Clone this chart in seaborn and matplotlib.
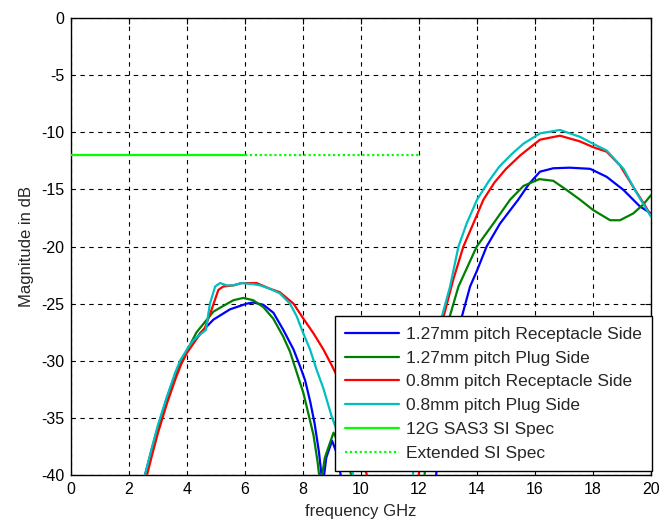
import numpy as np
import pandas as pd
import matplotlib
matplotlib.use("Agg")
import matplotlib.pyplot as plt
import seaborn as sns

# ---------------- data ----------------
blue_x = [2.3, 2.55, 2.8, 3.0, 3.3, 3.6, 3.8, 4.0, 4.45, 4.91, 5.48, 6.06, 6.28, 6.63, 6.98, 7.32, 7.67, 7.9,
          8.07, 8.25, 8.4, 8.55, 8.68, 8.8, 9.0, 9.15, 9.3, 9.6, 10.2, 11.0, 11.8, 12.3, 12.55, 12.65, 12.8, 13.0,
          13.22, 13.47, 13.76, 14.0, 14.33, 14.79, 15.42, 15.8, 16.17, 16.63, 17.2, 17.9, 18.47, 19.05, 19.62, 20.0]
blue_y = [-42.5, -40.0, -37.6, -35.8, -33.3, -31.1, -29.9, -29.1, -27.6, -26.4, -25.5, -25.0, -24.9, -25.1, -25.8,
          -27.3, -29.0, -30.5, -31.7, -33.6, -35.5, -38.0, -41.0, -38.5, -37.0, -38.0, -40.0, -43.0, -47.0, -48.0,
          -46.0, -43.0, -41.0, -38.5, -35.3, -32.2, -28.8, -26.2, -23.5, -22.1, -20.0, -18.0, -15.9, -14.5, -13.45,
          -13.15, -13.1, -13.2, -13.9, -15.05, -16.5, -17.1]

green_x = [2.4, 2.6, 2.8, 3.0, 3.3, 3.6, 3.8, 4.0, 4.33, 4.91, 5.25, 5.6, 5.94, 6.28, 6.63, 6.97, 7.32, 7.55, 7.78,
           8.01, 8.2, 8.36, 8.5, 8.6, 8.75, 9.05, 9.4, 9.8, 10.5, 11.3, 11.9, 12.15, 12.25, 12.4, 12.6, 12.83, 13.05,
           13.36, 13.99, 14.56, 15.14, 15.6, 16.15, 16.63, 17.09, 17.55, 18.0, 18.59, 18.93, 19.39, 19.74, 20.0]
green_y = [-42.5, -40.0, -37.8, -35.9, -33.5, -31.4, -30.1, -29.1, -27.5, -25.7, -25.2, -24.7, -24.5, -24.7, -25.3,
           -26.3, -27.9, -29.2, -31.0, -32.8, -34.8, -36.5, -38.8, -41.0, -38.5, -36.3, -38.0, -41.0, -46.0, -46.0,
           -43.0, -41.0, -38.5, -35.3, -32.2, -28.8, -26.2, -23.5, -20.0, -18.0, -15.9, -14.7, -14.1, -14.25, -15.05,
           -15.9, -16.8, -17.7, -17.7, -17.1, -16.3, -15.5]

red_x = [2.4, 2.62, 2.8, 3.0, 3.3, 3.6, 3.8, 4.0, 4.3, 4.62, 4.85, 5.08, 5.25, 5.6, 5.88, 6.4, 6.86, 7.2, 7.67, 8.01,
         8.36, 8.7, 8.99, 9.3, 9.7, 10.2, 10.8, 11.3, 11.7, 11.95, 12.05, 12.2, 12.4, 12.62, 12.84, 13.18, 13.53,
         13.87, 14.22, 14.6, 15.0, 15.5, 16.17, 16.86, 17.55, 18.0, 18.47, 18.93, 19.39, 19.74, 20.0]
red_y = [-42.5, -40.0, -38.2, -36.3, -33.8, -31.6, -30.3, -29.3, -28.2, -27.1, -25.5, -23.8, -23.5, -23.4, -23.2,
         -23.2, -23.7, -24.0, -25.0, -26.3, -27.6, -29.0, -30.4, -32.0, -35.0, -40.0, -45.0, -46.0, -44.0, -41.0,
         -38.5, -35.3, -32.2, -28.8, -26.2, -22.9, -20.0, -18.0, -15.9, -14.4, -13.2, -12.0, -10.65, -10.3, -10.8,
         -11.3, -11.7, -12.9, -14.8, -16.2, -17.3]

cyan_x = [2.3, 2.55, 2.8, 3.0, 3.3, 3.6, 3.76, 4.0, 4.22, 4.45, 4.65, 4.79, 4.97, 5.14, 5.37, 5.6, 5.88, 6.3, 6.52,
          6.86, 7.2, 7.55, 7.78, 8.01, 8.24, 8.47, 8.7, 8.99, 9.3, 9.6, 10.0, 10.5, 11.0, 11.4, 11.75, 11.85, 12.0,
          12.2, 12.5, 12.78, 13.07, 13.36, 13.64, 14.0, 14.4, 14.77, 15.2, 15.6, 16.17, 16.86, 17.55, 18.0, 18.47,
          19.05, 19.5, 19.74, 20.0]
cyan_y = [-42.5, -40.0, -37.5, -35.6, -33.2, -31.0, -30.0, -29.0, -28.2, -27.7, -27.3, -25.0, -23.5, -23.2, -23.4,
          -23.4, -23.2, -23.3, -23.4, -23.7, -24.1, -25.0, -26.1, -27.6, -29.0, -30.8, -32.4, -34.9, -37.0, -39.0,
          -42.0, -46.0, -48.0, -46.0, -41.0, -38.5, -35.3, -32.2, -28.8, -26.2, -23.5, -20.0, -18.0, -15.9, -14.3,
          -13.0, -11.9, -11.0, -10.1, -9.8, -10.4, -11.0, -11.6, -13.2, -15.3, -16.3, -17.4]

spec_x = [0, 6]
spec_y = [-12, -12]
ext_x = [6, 12]
ext_y = [-12, -12]

labels = ["1.27mm pitch Receptacle Side", "1.27mm pitch Plug Side",
          "0.8mm pitch Receptacle Side", "0.8mm pitch Plug Side",
          "12G SAS3 SI Spec", "Extended SI Spec"]

x_ticks = [0, 2, 4, 6, 8, 10, 12, 14, 16, 18, 20]
y_ticks = [0, -5, -10, -15, -20, -25, -30, -35, -40]

# ---------------- style ----------------
sns.set_style("white")
plt.rcParams["font.family"] = ["Liberation Sans", "DejaVu Sans"]
plt.rcParams["axes.unicode_minus"] = False

fig = plt.figure(figsize=(6.65, 5.24), dpi=100)
ax = fig.add_axes([0.1068, 0.0935, 0.8722, 0.8721])

lw = 1.6
series = [(blue_x, blue_y, "#0000ff", labels[0]),
          (green_x, green_y, "#008000", labels[1]),
          (red_x, red_y, "#ff0000", labels[2]),
          (cyan_x, cyan_y, "#00bfbf", labels[3]),
          (spec_x, spec_y, "#00ff00", labels[4])]
for xs, ys, c, lab in series:
    sns.lineplot(x=xs, y=ys, color=c, linewidth=lw, label=lab, sort=False, ax=ax, zorder=3)
sns.lineplot(x=ext_x, y=ext_y, color="#00ff00", linewidth=lw, linestyle=(0, (1, 1.2)),
             label=labels[5], sort=False, ax=ax, zorder=3)

ax.set_xlim(0, 20)
ax.set_ylim(-40, 0)
ax.set_xticks(x_ticks)
ax.set_yticks(y_ticks)
ax.grid(True, color="black", linestyle=(0, (4, 4)), linewidth=0.8)
ax.set_axisbelow(True)
for s in ax.spines.values():
    s.set_color("black")
    s.set_linewidth(1.0)
    s.set_visible(True)
ax.tick_params(direction="in", length=4, width=0.8, top=True, right=True,
               labelsize=11.5, colors="black", pad=5)
ax.set_xlabel("frequency GHz", fontsize=12, labelpad=5)
ax.set_ylabel("Magnitude in dB", fontsize=12, labelpad=5)

leg = ax.legend(loc="lower right", bbox_to_anchor=(1.002, 0.008), borderaxespad=0,
                fontsize=12.5, frameon=True, fancybox=False, framealpha=1,
                edgecolor="black", handlelength=3.1, labelspacing=0.5,
                borderpad=0.6, handletextpad=0.4)
leg.get_frame().set_linewidth(1.0)
leg.set_zorder(5)

fig.savefig("out.png", dpi=100, facecolor="white")
